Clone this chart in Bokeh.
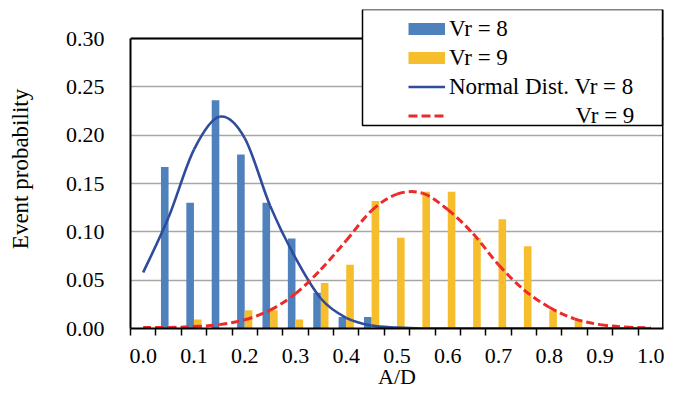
from bokeh.plotting import figure
from bokeh.models import (FixedTicker, Legend, LegendItem, BoxAnnotation, Span,
                          PrintfTickFormatter, ColumnDataSource)
from bokeh.embed import file_html
from bokeh.resources import INLINE

# ---- data ----
ad = [0.00, 0.05, 0.10, 0.15, 0.20, 0.25, 0.30, 0.35, 0.40, 0.45, 0.50,
      0.55, 0.60, 0.65, 0.70, 0.75, 0.80, 0.85, 0.90, 0.95, 1.00]
vr8 = [0.0, 0.167, 0.130, 0.236, 0.180, 0.130, 0.093, 0.037, 0.012, 0.012, 0.0,
       0.0, 0.0, 0.0, 0.0, 0.0, 0.0, 0.0, 0.0, 0.0, 0.0]
vr9 = [0.0, 0.0, 0.0094, 0.0, 0.0189, 0.0189, 0.0094, 0.047, 0.066, 0.132, 0.094,
       0.1415, 0.1415, 0.094, 0.113, 0.085, 0.0189, 0.0094, 0.0, 0.0, 0.0]
norm8 = [0.058, 0.115, 0.185, 0.219, 0.197, 0.127, 0.073, 0.031, 0.011, 0.003, 0.001,
         0.0, 0.0, 0.0, 0.0, 0.0, 0.0, 0.0, 0.0, 0.0, 0.0]
norm9 = [0.001, 0.001, 0.002, 0.004, 0.009, 0.019, 0.036, 0.061, 0.091, 0.122, 0.139,
         0.140, 0.123, 0.098, 0.066, 0.040, 0.022, 0.010, 0.004, 0.0015, 0.0005]

x_tick_values = [0.0, 0.1, 0.2, 0.3, 0.4, 0.5, 0.6, 0.7, 0.8, 0.9, 1.0]
x_tick_labels = ["0.0", "0.1", "0.2", "0.3", "0.4", "0.5", "0.6", "0.7", "0.8", "0.9", "1.0"]
y_tick_values = [0.0, 0.05, 0.10, 0.15, 0.20, 0.25, 0.30]
y_max = 0.30

legend_labels = ["Vr = 8", "Vr = 9", "Normal Dist. Vr = 8",
                 "\u00a0" * 22 + "Vr = 9"]

# ---- styles ----
BLUE_BAR = "#4f81bd"
YELLOW_BAR = "#f6bd2c"
BLUE_LINE = "#2f4b9b"
RED_LINE = "#ec2a2b"
FONT = "Liberation Serif"

step = 0.05
bar_w = 0.015
x_lo, x_hi = -step / 2, 1.0 + step / 2

# frame is extended above 0.30 so that the legend box (which sits above the
# plot area in the reference) is not clipped
p = figure(width=664, height=391, x_range=(x_lo, x_hi), y_range=(0, 0.33),
           output_backend="svg", toolbar_location=None,
           min_border_left=130, min_border_right=1, min_border_top=9, min_border_bottom=62)

p.background_fill_color = "white"
p.border_fill_color = "white"
p.outline_line_color = None

# grid
p.xgrid.visible = False
p.ygrid.ticker = FixedTicker(ticks=y_tick_values)
p.ygrid.grid_line_color = "#a6a6a6"
p.ygrid.grid_line_width = 1.5

# y axis
p.yaxis.ticker = FixedTicker(ticks=y_tick_values)
p.yaxis.bounds = (0, y_max)
p.yaxis.formatter = PrintfTickFormatter(format="%.2f")
p.yaxis.major_tick_line_color = None
p.yaxis.minor_tick_line_color = None
p.yaxis.major_tick_out = 0
p.yaxis.major_tick_in = 0
p.yaxis.axis_line_color = "black"
p.yaxis.axis_line_width = 2
p.yaxis.major_label_standoff = 26
p.yaxis.major_label_text_font = FONT
p.yaxis.major_label_text_font_size = "22px"
p.yaxis.major_label_text_color = "black"
p.yaxis.axis_label = "Event probability"
p.yaxis.axis_label_text_font = FONT
p.yaxis.axis_label_text_font_size = "23px"
p.yaxis.axis_label_text_font_style = "normal"
p.yaxis.axis_label_text_color = "black"
p.yaxis.axis_label_standoff = 30

# x axis
minor = [x_lo + step * k for k in range(len(ad) + 1)]
p.xaxis.ticker = FixedTicker(ticks=x_tick_values, minor_ticks=minor)
p.xaxis.major_label_overrides = dict(zip(x_tick_values, x_tick_labels))
p.xaxis.major_tick_line_color = None
p.xaxis.major_tick_out = 0
p.xaxis.major_tick_in = 0
p.xaxis.minor_tick_line_color = "black"
p.xaxis.minor_tick_line_width = 1.5
p.xaxis.minor_tick_out = 7
p.xaxis.minor_tick_in = 0
p.xaxis.axis_line_color = "black"
p.xaxis.axis_line_width = 2
p.xaxis.major_label_standoff = 13
p.xaxis.major_label_text_font = FONT
p.xaxis.major_label_text_font_size = "22px"
p.xaxis.major_label_text_color = "black"
p.xaxis.axis_label = "A/D"
p.xaxis.axis_label_text_font = FONT
p.xaxis.axis_label_text_font_size = "22px"
p.xaxis.axis_label_text_font_style = "normal"
p.xaxis.axis_label_text_color = "black"
p.xaxis.axis_label_standoff = -2

# bars
src = ColumnDataSource(dict(
    x8=[v - bar_w / 2 for v in ad], x9=[v + bar_w / 2 for v in ad], vr8=vr8, vr9=vr9))
p.vbar(x="x8", top="vr8", width=bar_w, source=src, fill_color=BLUE_BAR, line_color=None)
p.vbar(x="x9", top="vr9", width=bar_w, source=src, fill_color=YELLOW_BAR, line_color=None)


# smooth curves (Catmull-Rom through the read points)
def smooth(xs, ys):
    n = len(xs)
    out = dict(x0=[], y0=[], x1=[], y1=[], cx0=[], cy0=[], cx1=[], cy1=[])
    for i in range(n - 1):
        a = max(i - 1, 0)
        d = min(i + 2, n - 1)
        out["x0"].append(xs[i]); out["y0"].append(ys[i])
        out["x1"].append(xs[i + 1]); out["y1"].append(ys[i + 1])
        out["cx0"].append(xs[i] + (xs[i + 1] - xs[a]) / 6)
        out["cy0"].append(ys[i] + (ys[i + 1] - ys[a]) / 6)
        out["cx1"].append(xs[i + 1] - (xs[d] - xs[i]) / 6)
        out["cy1"].append(ys[i + 1] - (ys[d] - ys[i]) / 6)
    return ColumnDataSource(out)


p.bezier(x0="x0", y0="y0", x1="x1", y1="y1", cx0="cx0", cy0="cy0", cx1="cx1", cy1="cy1",
         source=smooth(ad, norm8), line_color=BLUE_LINE, line_width=2.6)
p.bezier(x0="x0", y0="y0", x1="x1", y1="y1", cx0="cx0", cy0="cy0", cx1="cx1", cy1="cy1",
         source=smooth(ad, norm9), line_color=RED_LINE, line_width=3, line_dash="8 4")

# plot-area border: top at 0.30 and right edge
p.add_layout(Span(location=y_max, dimension="width", line_color="black", line_width=2))
p.add_layout(Span(location=x_hi, dimension="height", line_color="black", line_width=3))

# legend (glyph proxies placed outside the visible range)
px_ = [-1.0, -0.9]
py_ = [-1.0, -1.0]
g1 = p.line(x=px_, y=py_, line_color=BLUE_BAR, line_width=12)
g2 = p.line(x=px_, y=py_, line_color=YELLOW_BAR, line_width=12)
g3 = p.line(x=px_, y=py_, line_color=BLUE_LINE, line_width=2.6)
g4 = p.line(x=px_, y=py_, line_color=RED_LINE, line_width=3, line_dash="9 4")

box = BoxAnnotation(left=232, right=532, top=319, bottom=203,
                    left_units="screen", right_units="screen",
                    top_units="screen", bottom_units="screen",
                    fill_color="white", fill_alpha=1.0,
                    line_color="black", line_width=1.5, line_alpha=1.0)
p.add_layout(box)

legend = Legend(items=[LegendItem(label=legend_labels[0], renderers=[g1]),
                       LegendItem(label=legend_labels[1], renderers=[g2]),
                       LegendItem(label=legend_labels[2], renderers=[g3]),
                       LegendItem(label=legend_labels[3], renderers=[g4])],
                location=(278, 198), padding=0, margin=0, spacing=0,
                glyph_width=37, glyph_height=29, label_height=29, label_standoff=4,
                border_line_color=None, background_fill_alpha=0,
                label_text_font=FONT, label_text_font_size="23px",
                label_text_color="black")
p.add_layout(legend)

open("out.html", "w").write(file_html(p, INLINE))
